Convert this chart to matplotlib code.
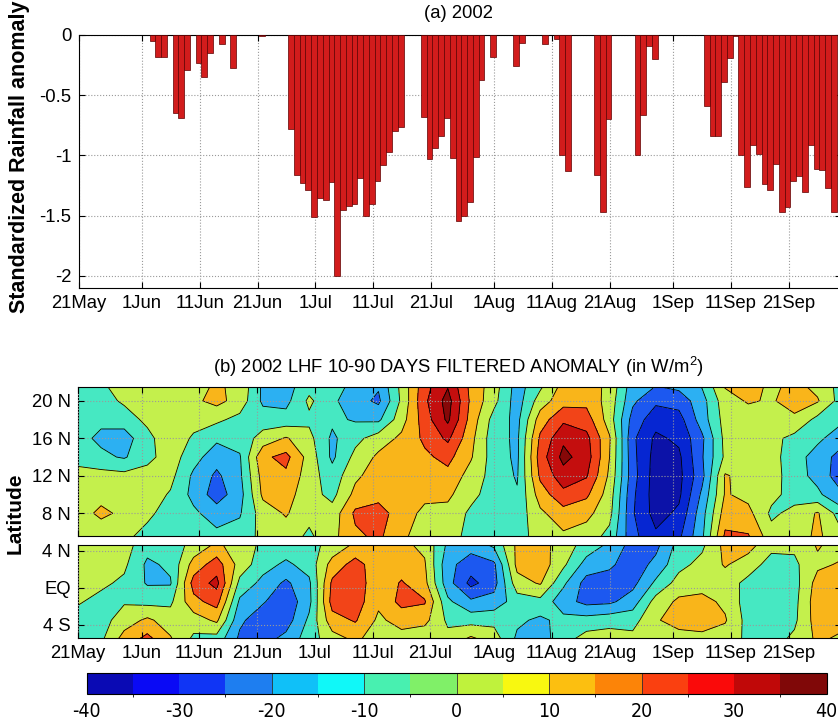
import matplotlib
matplotlib.use("Agg")
import matplotlib.pyplot as plt
import numpy as np
import matplotlib as mpl
from matplotlib.colors import ListedColormap, BoundaryNorm

plt.rcParams['font.family'] = ['Liberation Sans', 'DejaVu Sans']
plt.rcParams['mathtext.default'] = 'regular'
plt.rcParams['axes.unicode_minus'] = False

# days counted from 21 May 2002
tick_days = [0, 11, 21, 31, 41, 51, 61, 72, 82, 92, 103, 113, 123]
tick_labels = ['21May', '1Jun', '11Jun', '21Jun', '1Jul', '11Jul', '21Jul',
               '1Aug', '11Aug', '21Aug', '1Sep', '11Sep', '21Sep']

# (a) standardized rainfall anomaly (only the days with a bar)
rain_day = [12, 13, 14, 16, 17, 18, 20, 21, 22, 24, 26, 31,
            36, 37, 38, 39, 40, 41, 42, 43, 44, 45, 46, 47, 48, 49, 50, 51, 52, 53, 54, 55,
            59, 60, 61, 62, 63, 64, 65, 66, 67, 68, 69,
            71, 75, 76, 80, 82, 83, 84, 89, 90, 91, 96, 97, 98, 99,
            108, 109, 110, 111, 112, 113, 114, 115, 116, 117, 118, 119, 120, 121, 122,
            123, 124, 125, 126, 127, 128, 129, 130]
rain_anom = [-0.05, -0.185, -0.18, -0.65, -0.69, -0.29, -0.23, -0.35, -0.15, -0.075, -0.27, -0.01,
             -0.78, -1.16, -1.23, -1.29, -1.51, -1.35, -1.37, -1.22, -2.0, -1.45, -1.42, -1.40,
             -1.19, -1.50, -1.40, -1.21, -1.08, -0.97, -0.80, -0.76,
             -0.68, -1.03, -0.94, -0.84, -0.69, -1.02, -1.54, -1.50, -1.39, -1.01, -0.37,
             -0.18, -0.26, -0.07, -0.075, -0.03, -1.0, -1.13, -1.16, -1.47, -0.70, -1.0, -0.66, -0.09, -0.2,
             -0.59, -0.84, -0.84, -0.39, -0.19, -0.01, -1.0, -1.26, -0.91, -0.99, -1.24, -1.29, -1.07,
             -1.47, -1.43, -1.21, -1.17, -1.30, -0.91, -1.11, -1.12, -1.27, -1.47]

# (b) LHF anomaly (W/m2), sampled every 4 days
lhf_days = list(range(0, 133, 4))
north_lats = [22, 20, 18, 16, 14, 12, 10, 8, 5.5]
north_cols = [
    [-4, -4, -6, -7, -3, 3, 5, 6, 3],
    [-2, -5, -8, -12, -8, 4, 7, 12, 4],
    [11, 2, -6, -14, -11, 3, 6, 8, 2],
    [11, 5, 3, -4, -3, 4, 5, 2, -3],
    [6, 6, 7, 9, 5, 3, -1, -4, -5],
    [6, 8, 5, -2, -6, -12, -13, -8, -4],
    [11, 13, 2, -8, -16, -22, -25, -15, -7],
    [8, 6, -3, -6, -11, -12, -14, -11, -6],
    [-12, -12, -5, 4, 18, 14, 12, 5, 3],
    [-14, -13, -6, 11, 23, 18, 14, 11, 5],
    [-5, 2, -2, 3, 6, 5, 4, 3, -2],
    [-6, -8, -8, -12, -12, -6, -3, 4, 7],
    [-12, -16, -11, -3, 3, 8, 13, 22, 18],
    [-18, -22, -12, 5, 12, 15, 16, 25, 22],
    [3, 2, 6, 12, 15, 17, 15, 14, 12],
    [26, 28, 25, 22, 18, 14, 12, 8, 5],
    [38, 44, 42, 32, 23, 17, 12, 7, 4],
    [17, 18, 16, 13, 11, 6, 3, -2, -3],
    [5, 3, -4, -6, -5, -4, -5, -4, -2],
    [-14, -15, -13, -12, -12, -11, -9, -6, -3],
    [-4, 5, 15, 22, 25, 22, 15, 8, 3],
    [12, 16, 28, 38, 43, 36, 27, 16, 8],
    [14, 17, 25, 33, 35, 31, 22, 13, 5],
    [8, 6, 5, 11, 10, 8, 5, 3, -3],
    [-15, -18, -24, -28, -27, -26, -28, -29, -27],
    [-18, -28, -36, -42, -44, -45, -45, -44, -38],
    [-15, -26, -34, -38, -42, -43, -42, -38, -32],
    [-8, -14, -15, -22, -21, -23, -18, -14, -12],
    [12, 6, 4, 3, 2, 11, 11, 15, 22],
    [15, 11, 5, 1, 4, 6, 7, 13, 21],
    [8, 9, 5, 3, 4, 5, 3, -2, 4],
    [12, 14, 8, -3, -6, -6, -4, 3, 5],
    [6, 11, -3, -8, -14, -13, -8, 11, 12],
    [-3, -4, -8, -15, -24, -26, -18, -5, 3],
]
south_lats = [4.6, 2.5, 0.5, -1.5, -3.5, -5.5]
south_cols = [
    [5, 6, 4, 1, -4, -5],
    [6, 5, 2, -3, -4, -2],
    [4, 2, -2, -1, 5, 14],
    [-6, -12, -11, -3, 12, 23],
    [-5, -8, -11, -2, 5, 11],
    [3, 14, 24, 17, 5, -2],
    [12, 25, 33, 24, 12, -4],
    [5, 6, -3, -12, -18, -22],
    [-2, -6, -13, -19, -26, -24],
    [-4, -12, -22, -27, -25, -17],
    [-3, -6, -12, -13, -8, -5],
    [3, 14, 22, 24, 16, 6],
    [12, 24, 26, 25, 21, 12],
    [15, 14, 13, 12, 8, 5],
    [12, 15, 21, 23, 14, 6],
    [8, 11, 13, 21, 13, 3],
    [-12, -17, -16, -8, -2, 3],
    [-16, -25, -33, -18, -4, 12],
    [-8, -22, -24, -16, -3, 5],
    [12, 13, 6, -5, -8, -12],
    [14, 16, 11, -3, -12, -15],
    [5, 2, -8, -16, -7, -4],
    [-4, -14, -24, -23, -6, 4],
    [-12, -18, -25, -22, -4, 5],
    [-24, -26, -23, -15, -4, 3],
    [-23, -17, -8, 4, 9, 4],
    [-6, -3, 4, 12, 14, 6],
    [-2, 3, 6, 13, 15, 7],
    [13, 11, 5, 8, 11, 5],
    [14, 5, -3, -5, -4, -2],
    [3, -4, -6, -7, -6, -4],
    [2, -2, -4, -3, -2, 2],
    [11, 8, 14, 16, 15, 12],
    [6, 11, 15, 16, 14, 8],
]

fill_levels = [-60, -40, -30, -20, -10, 0, 10, 20, 30, 40, 60]
fill_colors = ['#0c12a8', '#0626d2', '#1c58f0', '#2cb0f2', '#46e8c2',
               '#c4f04c', '#f9b51a', '#f24418', '#c40e0e', '#860808']
cbar_bounds = list(range(-40, 45, 5))
cbar_ticks = list(range(-40, 41, 10))
cbar_colors = ['#0a0ab4', '#0a0af5', '#1035f5', '#1e7ef0', '#10c0f8', '#10f8f8',
               '#48f0b0', '#80f068', '#bff23c', '#f8f810', '#fcbf10', '#fc8408',
               '#fa4010', '#fa0a0a', '#c00808', '#800808']

W, H = 838, 724
fig = plt.figure(figsize=(W / 100, H / 100), dpi=100)


def box(l, t, r, b):
    return [l / W, 1 - b / H, (r - l) / W, (b - t) / H]


def style(ax):
    ax.set_xlim(0, 132)
    ax.set_xticks(tick_days)
    ax.grid(True, linestyle=':', color='#9a9a9a', linewidth=0.8)
    ax.tick_params(direction='in', top=True, right=True, length=4,
                   labelsize=13.3, pad=5)
    for s in ax.spines.values():
        s.set_linewidth(0.8)


# ---- (a) rainfall bars
ax1 = fig.add_axes(box(78.5, 35, 840.7, 288))
ax1.bar(np.array(rain_day) + 0.8, rain_anom, width=1.0, color='#d21c1c',
        edgecolor='#5e0000', linewidth=0.5, zorder=3)
style(ax1)
ax1.set_ylim(-2.1, 0)
ax1.set_yticks([0, -0.5, -1, -1.5, -2])
ax1.set_yticklabels(['0', '-0.5', '-1', '-1.5', '-2'])
ax1.set_xticklabels(tick_labels)
fig.text(20 / W, 1 - 157 / H, 'Standardized Rainfall anomaly', rotation=90,
         ha='center', va='center', fontsize=15.5, fontweight='bold')
fig.text(458 / W, 1 - 13 / H, '(a) 2002', ha='center', va='center', fontsize=13.3)

# ---- (b) LHF anomaly, two latitude boxes
axn = fig.add_axes(box(78, 387.3, 840.7, 535.7))
axs = fig.add_axes(box(78, 545, 840.7, 638.3))
for ax, lats, cols in [(axn, north_lats, north_cols), (axs, south_lats, south_cols)]:
    Z = np.array(cols).T
    ax.contourf(lhf_days, lats, Z, levels=fill_levels, colors=fill_colors)
    ax.contour(lhf_days, lats, Z, levels=fill_levels[1:-1], colors='k',
               linewidths=0.6, linestyles='solid')
    style(ax)
    ax.set_axisbelow(False)

axn.set_ylim(5.6, 21.45)
axn.set_yticks([8, 12, 16, 20])
axn.set_yticklabels(['8 N', '12 N', '16 N', '20 N'])
axn.set_xticklabels([])
axs.set_ylim(-5.45, 4.6)
axs.set_yticks([-4, 0, 4])
axs.set_yticklabels(['4 S', 'EQ', '4 N'])
axs.set_xticklabels(tick_labels)

fig.text(15 / W, 1 - 513 / H, 'Latitude', rotation=90, ha='center', va='center',
         fontsize=15, fontweight='bold')
fig.text(458 / W, 1 - 367 / H,
         '(b) 2002 LHF 10-90 DAYS FILTERED ANOMALY (in W/m$^2$)',
         ha='center', va='center', fontsize=13.3)

# ---- colorbar
cax = fig.add_axes(box(86.7, 672.7, 826.7, 694))
cmap = ListedColormap(cbar_colors)
norm = BoundaryNorm(cbar_bounds, cmap.N)
cb = mpl.colorbar.ColorbarBase(cax, cmap=cmap, norm=norm, orientation='horizontal',
                               ticks=cbar_ticks)
cb.outline.set_linewidth(0.8)
for v in [-20, -10, 0, 10, 20]:
    cax.axvline(v, color='#303030', linewidth=0.6)
cax.set_xticklabels([str(t) for t in cbar_ticks],
                    fontfamily=['Liberation Sans Narrow', 'DejaVu Sans'],
                    fontstretch='condensed', fontsize=14)
cax.tick_params(length=0, pad=6)

fig.savefig('out.png', dpi=100)
